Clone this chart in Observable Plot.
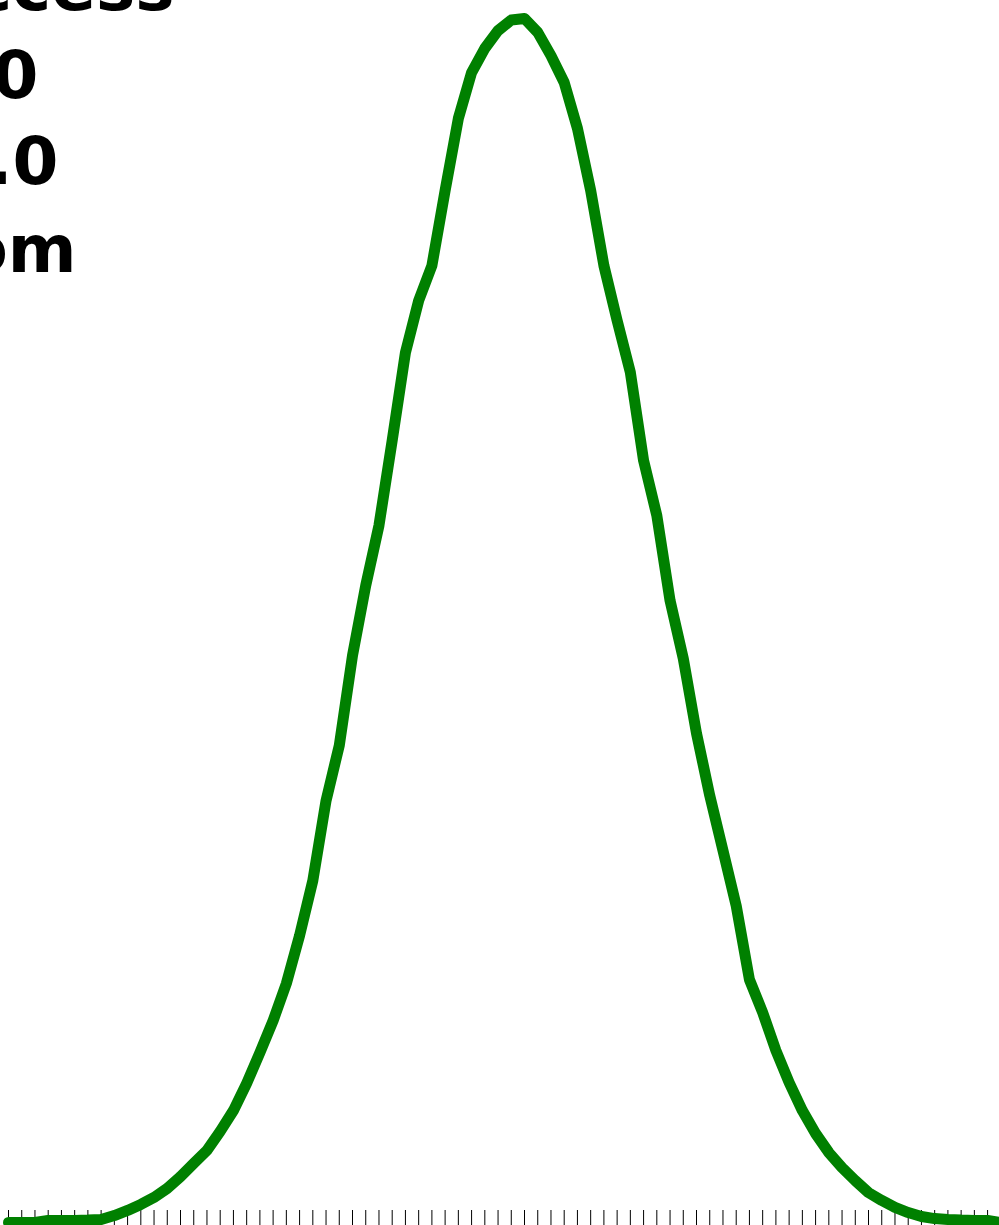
<!DOCTYPE html>
<html>
<head>
<meta charset="utf-8">
<script src="https://cdn.jsdelivr.net/npm/d3@7"></script>
<script src="https://cdn.jsdelivr.net/npm/@observablehq/plot@0.6"></script>
<style>
  html, body { margin: 0; padding: 0; background: #fff; overflow: hidden; }
</style>
</head>
<body>
<div id="chart"></div>
<script>
// Outcome index (one per tick) and the curve value read at each outcome (in %)
const outcomes = d3.range(0, 76);
const probability = [
  0.000, 0.000, 0.000, 0.007, 0.007, 0.007, 0.008, 0.010, 0.023, 0.040,
  0.060, 0.083, 0.113, 0.152, 0.196, 0.239, 0.302, 0.371, 0.461, 0.563,
  0.669, 0.792, 0.951, 1.133, 1.398, 1.581, 1.879, 2.111, 2.310, 2.592,
  2.883, 3.055, 3.171, 3.420, 3.659, 3.811, 3.891, 3.950, 3.985, 3.990,
  3.944, 3.867, 3.778, 3.626, 3.420, 3.171, 2.989, 2.817, 2.525, 2.343,
  2.061, 1.869, 1.621, 1.415, 1.233, 1.050, 0.805, 0.696, 0.570, 0.464,
  0.371, 0.295, 0.232, 0.182, 0.139, 0.099, 0.073, 0.050, 0.033, 0.020,
  0.013, 0.010, 0.008, 0.007, 0.007, 0.000
];
// Tick values on the x axis
const tickValues = d3.range(0, 75);
// Annotation lines (clipped by the left edge in the reference)
const labelLines = ["Number of Success", "n = 100", "p = 2.0", "Random"];

// Layout (not data)
const W = 999, H = 1225;
const labelRight = [174, 38, 58, 76];
const labelBaseline = [9, 97, 183, 271];

const table = outcomes.map((x, i) => ({x, y: probability[i]}));

const marks = [
  Plot.tickX(tickValues, {x: d => d, insetTop: 1210, stroke: "#000", strokeWidth: 1}),
  Plot.line(table, {x: "x", y: "y", stroke: "#008000", strokeWidth: 11, strokeLinejoin: "round"})
];
labelLines.forEach((t, i) => {
  marks.push(Plot.text([t], {
    text: d => d,
    frameAnchor: "top-left",
    textAnchor: "end",
    lineAnchor: "bottom",
    dx: labelRight[i],
    dy: labelBaseline[i],
    fontSize: 66,
    fontWeight: "bold",
    fill: "#000"
  }));
});

const chart = Plot.plot({
  width: W,
  height: H,
  margin: 0,
  style: {fontFamily: "DejaVu Sans", background: "#fff", overflow: "hidden"},
  x: {domain: [-0.605, 74.9], axis: null},
  y: {domain: [-0.0099, 4.0497], axis: null},
  marks
});
document.getElementById("chart").appendChild(chart);
</script>
</body>
</html>
